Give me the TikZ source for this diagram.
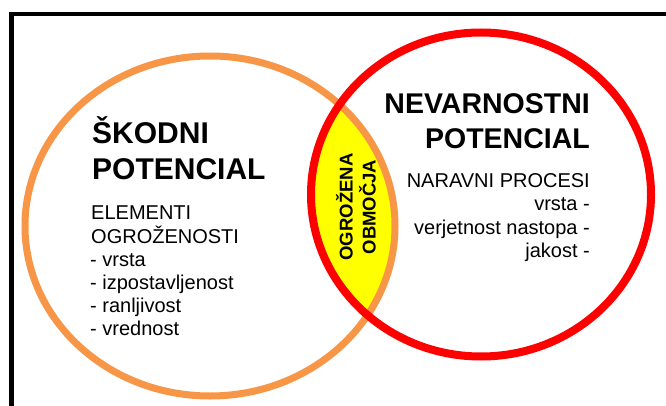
\documentclass[tikz,border=0pt]{standalone}
\usepackage{fontspec}
\setmainfont{Liberation Sans}
\definecolor{orng}{HTML}{F79646}
\definecolor{rd}{HTML}{FF0000}
\definecolor{ylw}{HTML}{FFFF00}
\tikzset{
  big/.style={font=\fontsize{28.5}{34}\selectfont\bfseries, inner sep=0pt},
  bigl/.style={font=\fontsize{30}{34}\selectfont\bfseries, inner sep=0pt},
  small/.style={font=\fontsize{20}{23}\selectfont, inner sep=0pt},
  vert/.style={font=\fontsize{18.5}{22}\selectfont\bfseries, inner sep=0pt, rotate=90},
}
\begin{document}
\begin{tikzpicture}[x=1pt,y=-1pt]
\useasboundingbox (0,0) rectangle (666,406);
\clip (0,0) rectangle (666,406);
\fill[white] (0,0) rectangle (666,406);
% frame
\draw[line width=4.5pt] (11.5,420) -- (11.5,14) -- (680,14);
% lens fill
\begin{scope}
  \clip (210,226) ellipse [x radius=185, y radius=170];
  \fill[ylw] (481,194.5) ellipse [x radius=170, y radius=162];
\end{scope}
\draw[orng, line width=7pt] (210,226) ellipse [x radius=185, y radius=170];
\draw[rd, line width=8pt] (481,194.5) ellipse [x radius=170, y radius=162];
% left texts
\node[bigl, anchor=base west] (l1) at (92,144) {ŠKODNI};
\node[bigl, anchor=base west] (l2) at (92,179) {POTENCIAL};
\node[small, anchor=base west] (l3) at (91,219) {ELEMENTI};
\node[small, anchor=base west] (l4) at (91,243) {OGROŽENOSTI};
\node[small, anchor=base west] (l5) at (90,266) {- vrsta};
\node[small, anchor=base west] (l6) at (90,289) {- izpostavljenost};
\node[small, anchor=base west] (l7) at (90,312) {- ranljivost};
\node[small, anchor=base west] (l8) at (90,335) {- vrednost};
% right texts
\node[big, anchor=base east] (r1) at (590,114) {NEVARNOSTNI};
\node[big, anchor=base east] (r2) at (590,149) {POTENCIAL};
\node[small, anchor=base east] (r3) at (590,188) {NARAVNI PROCESI};
\node[small, anchor=base east] (r4) at (590,211) {vrsta -};
\node[small, anchor=base east] (r5) at (590,234) {verjetnost nastopa -};
\node[small, anchor=base east] (r6) at (590,257) {jakost -};
% vertical
\node[vert] (v1) at (344.5,207) {OGROŽENA};
\node[vert] (v2) at (367.5,207) {OBMOČJA};
\end{tikzpicture}
\end{document}
